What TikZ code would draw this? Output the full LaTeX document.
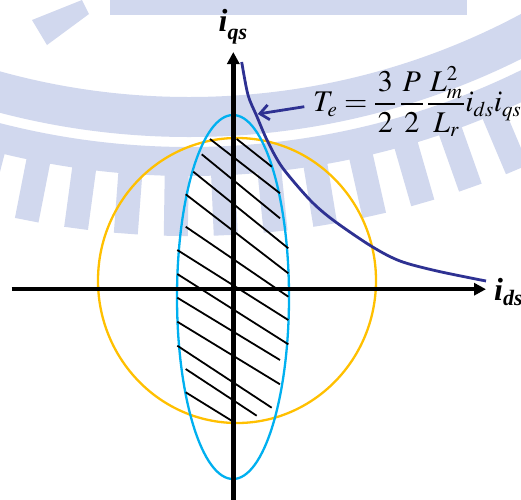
\documentclass[tikz,border=0pt]{standalone}
\usepackage{mathptmx}
\usepackage[no-math]{fontspec}
\setmainfont{Liberation Serif}
\usetikzlibrary{arrows.meta}
\DeclareMathSizes{30}{30}{21}{15}
\definecolor{wmark}{RGB}{209,216,238}
\definecolor{goldc}{RGB}{255,192,0}
\definecolor{cyanb}{RGB}{0,176,240}
\definecolor{navyc}{RGB}{46,49,146}
\tikzset{
  axisline/.style={black, line width=4.5pt, -{Triangle[length=12pt,width=12pt]}},
  hatchline/.style={black, line width=1.8pt},
  wmfill/.style={fill=wmark},
  labelfont/.style={anchor=base west, inner sep=0pt}
}
\begin{document}
\begin{tikzpicture}[x=1pt,y=-1pt]
\useasboundingbox (0,0) rectangle (521,499);
\fill[white] (0,0) rectangle (521,499);
% watermark
\coordinate (wc) at (189,-607);
\fill[wmfill, even odd rule] (wc) circle[radius=783] (wc) circle[radius=754];
\fill[wmfill, even odd rule] (wc) circle[radius=744] (wc) circle[radius=704];
\foreach \a in {-24.7,-21.3,-17.9,-14.5,-11.1,-7.7,-4.3,-0.9,2.5,5.9,9.3,12.7,16.1,19.5,22.9,26.3}{
  \fill[wmfill, rotate around={\a:(wc)}] (177,170) rectangle (201,236);
}
\fill[wmfill] (110,0) rectangle (467,15);
\fill[wmfill] (32,20) -- (82,0) -- (89,14) -- (47,45) -- cycle;
% circle and ellipse
\draw[goldc, line width=2.3pt] (237,280.5) ellipse[x radius=139, y radius=142.5];
\draw[cyanb, line width=2.3pt] (233,297) ellipse[x radius=56, y radius=182];
% hatching
\draw[hatchline] (236.7,139)--(271.7,166.7);
\draw[hatchline] (210,139)--(280,193.3);
\draw[hatchline] (201.7,154.3)--(280,218.3);
\draw[hatchline] (193.3,171.7)--(288.3,248.3);
\draw[hatchline] (185.7,194.3)--(288.3,273.3);
\draw[hatchline] (185.7,226.7)--(288.3,296.7);
\draw[hatchline] (177.3,250)--(288.3,320);
\draw[hatchline] (177.3,274)--(288.3,344.3);
\draw[hatchline] (177.3,297.7)--(280,360);
\draw[hatchline] (177.3,321.7)--(280,384.3);
\draw[hatchline] (177.3,345.7)--(271.7,407.7);
\draw[hatchline] (185.7,369)--(256.7,415.7);
\draw[hatchline] (185.7,392.3)--(233.3,421.7);
% axes
\coordinate (xl) at (11.7,289.2);
\coordinate (xr) at (486,289.2);
\coordinate (yb) at (233.3,500);
\coordinate (yt) at (233.3,52);
\draw[axisline] (xl) -- (xr);
\draw[axisline] (yb) -- (yt);
% torque curve
\draw[navyc, line width=2.8pt] plot[smooth, tension=0.5] coordinates {
 (241.7,62) (248,95) (256.7,116) (267,140) (282,167) (310,200) (333,220)
 (371,246) (400,261) (437,271) (486,281)};
% labels
\node[labelfont] (iq) at (218.5,31.7) {\fontsize{32}{32}\selectfont\bfseries\itshape i\raisebox{-7.5pt}{\fontsize{22}{22}\selectfont qs}};
\node[labelfont] (id) at (494,300) {\fontsize{32}{32}\selectfont\bfseries\itshape i\raisebox{-5.5pt}{\fontsize{22}{22}\selectfont ds}};
\node[labelfont] (te) at (313,111.5) {\fontsize{30}{30}\selectfont $T_e = \displaystyle\frac{\mkern1.5mu3\mkern1.5mu}{2}\,\frac{\mkern1mu P\mkern1mu}{2}\,\frac{\mkern1mu L_m^2\mkern1mu}{L_r}i_{ds}i_{qs}$};
% pointer arrow
\coordinate (atail) at (304.3,106.7);
\coordinate (ahead) at (257.7,114);
\draw[navyc, line width=2.8pt, -{Straight Barb[length=9pt,width=15pt]}] (atail) -- (ahead);
\end{tikzpicture}
\end{document}
